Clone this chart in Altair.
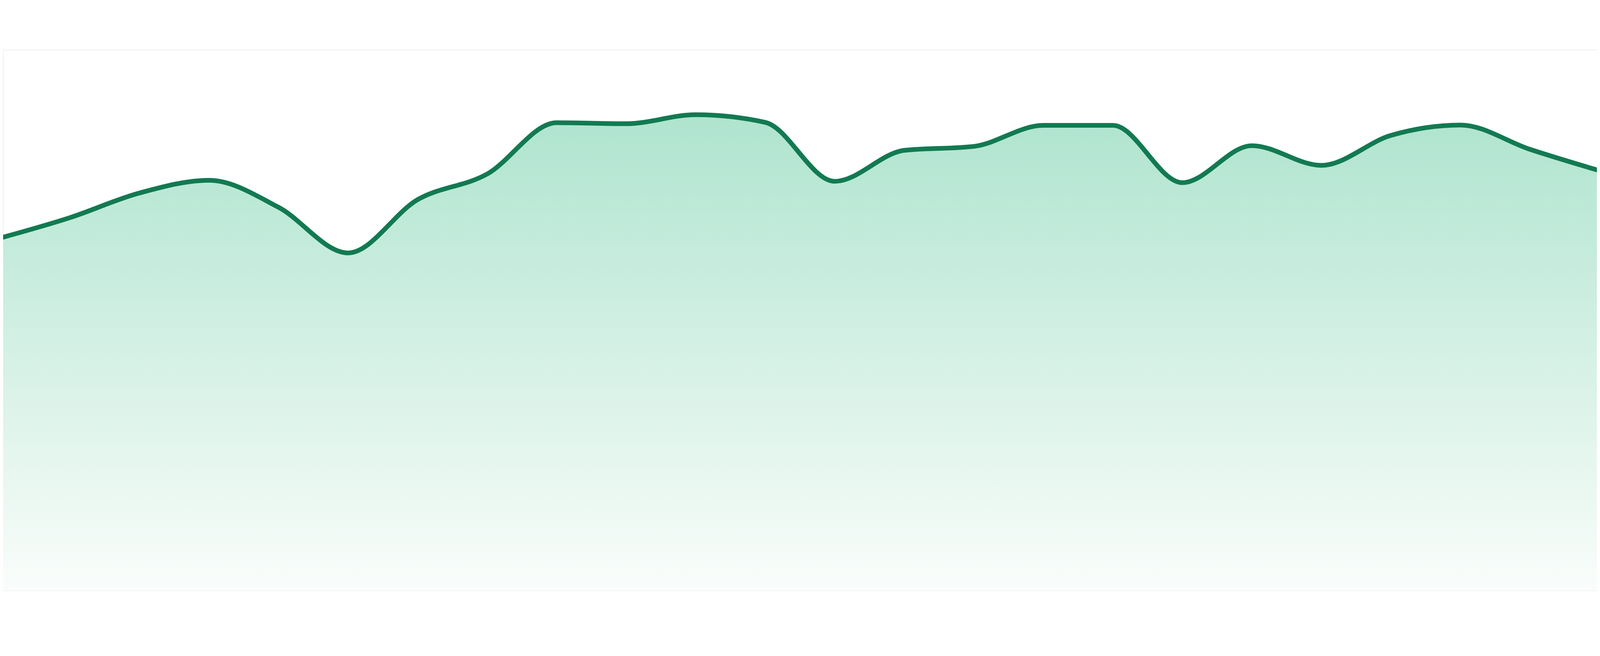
import altair as alt
import pandas as pd

# Point index along the x axis (24 evenly spaced samples)
idx = list(range(24))
# Series values (height above baseline)
values = [1059, 1120, 1194, 1232, 1151, 1014, 1174, 1251, 1405, 1402, 1429, 1406,
          1229, 1322, 1334, 1397, 1397, 1225, 1336, 1277, 1367, 1398, 1325, 1261]

df = pd.DataFrame({"i": idx, "v": values})

W, H = 4784, 1624
LINE = "#127a52"
TOP = "#afe4cf"
BOTTOM = "#fafdfb"

# the reference runs edge to edge; trim the 8px page margin off each end
edge = 8 / (4800 / 23)
xenc = alt.X("i:Q", axis=None,
             scale=alt.Scale(domain=[edge, 23 - edge], nice=False, zero=False))
yenc = alt.Y("v:Q", axis=None, scale=alt.Scale(domain=[0, 1624], nice=False))

area = alt.Chart(df).mark_area(
    interpolate="monotone",
    clip=True,
    color=alt.Gradient(
        gradient="linear",
        stops=[alt.GradientStop(color=BOTTOM, offset=0),
               alt.GradientStop(color=TOP, offset=1)],
        x1=1, x2=1, y1=1, y2=0,
    ),
).encode(x=xenc, y=yenc)

line = alt.Chart(df).mark_line(
    interpolate="monotone", color=LINE, strokeWidth=14, clip=True
).encode(x=xenc, y=yenc)

chart = alt.layer(area, line).properties(
    width=W, height=H,
    autosize=alt.AutoSizeParams(type="none"),
    padding=0,
).configure_view(stroke="transparent", strokeWidth=0).configure(background="white")

chart.save("out.html", embed_options={"renderer": "svg", "actions": False})
